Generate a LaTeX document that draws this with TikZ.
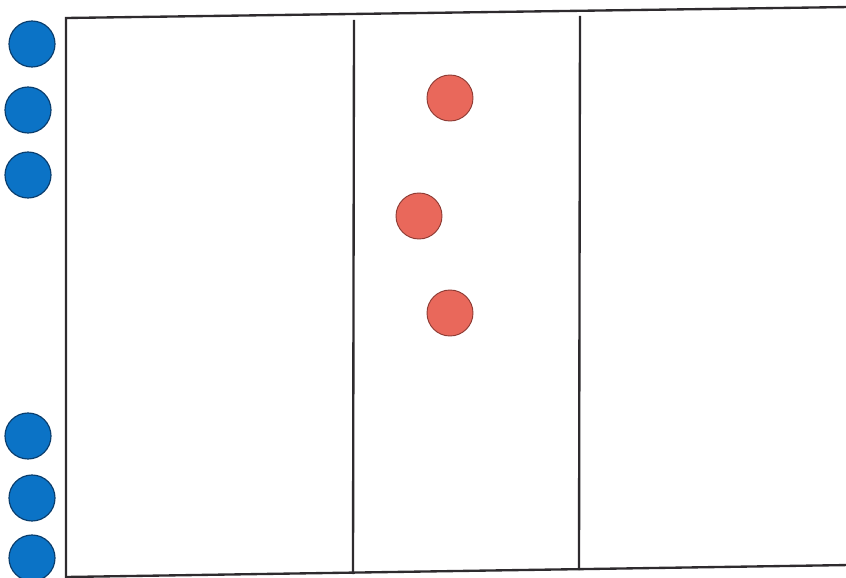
\documentclass[tikz,border=0pt]{standalone}
\usepackage{tikz}
\definecolor{azul}{HTML}{0B73C6}
\definecolor{azulborde}{HTML}{0A3E6E}
\definecolor{rojo}{HTML}{E9685B}
\definecolor{rojoborde}{HTML}{8E3B34}
\definecolor{linea}{HTML}{2E2B2E}
\tikzset{
  jugadorA/.style={circle, fill=azul, draw=azulborde, line width=1pt, minimum size=13.8mm, inner sep=0pt},
  jugadorB/.style={circle, fill=rojo, draw=rojoborde, line width=0.8pt, minimum size=13.8mm, inner sep=0pt},
  campo/.style={draw=linea, line width=2pt}
}
\begin{document}
\begin{tikzpicture}[x=0.3mm, y=-0.3mm]
        \useasboundingbox (0,0) rectangle (846,578);
        % Dibujo del campo
        \coordinate (c1) at (66,18);
        \coordinate (c2) at (850,7);
        \coordinate (c3) at (850,565);
        \coordinate (c4) at (66,578);
        \draw[campo] (c2) -- (c1) -- (c4);
        \draw[campo] (66,577) -- (c3);
        % Lineas divisorias
        \draw[campo] (354,20) -- (353,574);
        \draw[campo] (580,16) -- (579,570);
        % Equipo azul (izquierda)
        \node[jugadorA] (a1) at (32,44) {};
        \node[jugadorA] (a2) at (28,110) {};
        \node[jugadorA] (a3) at (28,175) {};
        \node[jugadorA] (a4) at (28,436) {};
        \node[jugadorA] (a5) at (32,498) {};
        \node[jugadorA] (a6) at (32,558) {};
        % Equipo rojo (centro)
        \node[jugadorB] (b1) at (450,98) {};
        \node[jugadorB] (b2) at (419,216) {};
        \node[jugadorB] (b3) at (450,313) {};
    \end{tikzpicture}
\end{document}
